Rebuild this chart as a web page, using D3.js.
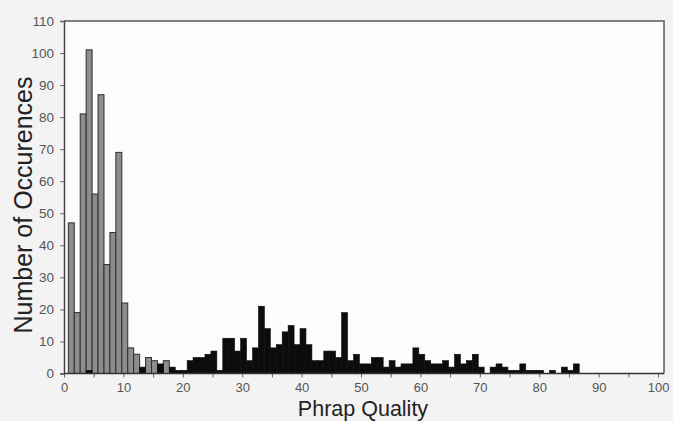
<!DOCTYPE html>
<html>
<head>
<meta charset="utf-8">
<script src="https://cdn.jsdelivr.net/npm/d3@7"></script>
<style>
  html, body { margin: 0; padding: 0; background: #f3f3f3; }
  svg { display: block; }
</style>
</head>
<body>
<svg id="chart" width="673" height="421"></svg>
<script>
// Phrap quality bins (x categories) and counts for the two series
const greyQuality = [1, 2, 3, 4, 5, 6, 7, 8, 9, 10, 11, 12, 13, 14, 15, 16, 17];
const greyCounts  = [47, 19, 81, 101, 56, 87, 34, 44, 69, 22, 8, 6, 0, 5, 4, 0, 4];

const blackQuality = [4, 13, 14, 15, 16, 17, 18, 19, 20, 21, 22, 23, 24, 25, 26, 27, 28, 29, 30,
  31, 32, 33, 34, 35, 36, 37, 38, 39, 40, 41, 42, 43, 44, 45, 46, 47, 48, 49, 50,
  51, 52, 53, 54, 55, 56, 57, 58, 59, 60, 61, 62, 63, 64, 65, 66, 67, 68, 69, 70,
  71, 72, 73, 74, 75, 76, 77, 78, 79, 80, 81, 82, 83, 84, 85, 86];
const blackCounts = [1, 2, 0, 0, 3, 0, 2, 1, 1, 4, 5, 5, 6, 7, 1, 11, 11, 7, 11,
  4, 8, 21, 14, 8, 9, 13, 15, 9, 14, 9, 4, 4, 7, 7, 5, 19, 4, 6, 3,
  3, 5, 5, 2, 4, 2, 3, 3, 8, 6, 4, 3, 3, 4, 2, 6, 3, 4, 6, 2,
  0, 2, 3, 2, 1, 1, 3, 1, 1, 1, 0, 1, 0, 2, 1, 3];

const xTickLabels = [0, 10, 20, 30, 40, 50, 60, 70, 80, 90, 100];
const xMinorTicks = [0, 5, 10, 15, 20, 25, 30, 35, 40, 45, 50, 55, 60, 65, 70, 75, 80, 85, 90, 95, 100];
const yTickLabels = [0, 10, 20, 30, 40, 50, 60, 70, 80, 90, 100, 110];

const xTitle = "Phrap Quality";
const yTitle = "Number of Occurences";

const svg = d3.select("#chart");
const mLeft = 64, mRight = 664, mTop = 21, mBottom = 373.5;

const x = d3.scaleLinear().domain([0, 101]).range([mLeft, mRight]);
const y = d3.scaleLinear().domain([0, 110]).range([mBottom, mTop]);
const bw = x(1) - x(0);

// plot background
svg.append("rect")
  .attr("x", mLeft).attr("y", mTop)
  .attr("width", mRight - mLeft).attr("height", mBottom - mTop)
  .attr("fill", "#fcfcfc");

// grey series
svg.append("g").selectAll("rect")
  .data(greyQuality.map((q, i) => ({q, v: greyCounts[i]})).filter(d => d.v > 0))
  .join("rect")
  .attr("x", d => x(d.q - 0.27))
  .attr("y", d => y(d.v))
  .attr("width", bw)
  .attr("height", d => y(0) - y(d.v))
  .attr("fill", "#8d8d8d")
  .attr("stroke", "#2e2e2e")
  .attr("stroke-width", 1);

// black series
svg.append("g").selectAll("rect")
  .data(blackQuality.map((q, i) => ({q, v: blackCounts[i]})).filter(d => d.v > 0))
  .join("rect")
  .attr("x", d => x(d.q - 0.27))
  .attr("y", d => y(d.v))
  .attr("width", bw)
  .attr("height", d => y(0) - y(d.v))
  .attr("fill", "#0c0c0c")
  .attr("stroke", "#0c0c0c")
  .attr("stroke-width", 0.6);

// frame (top and right)
svg.append("path")
  .attr("d", `M${mLeft},${mTop}H${mRight}V${mBottom}`)
  .attr("fill", "none")
  .attr("stroke", "#5a5a5a")
  .attr("stroke-width", 1.5);

// y axis
const yAxis = d3.axisLeft(y).tickValues(yTickLabels).tickSize(4).tickPadding(6);
const gy = svg.append("g").attr("transform", `translate(${mLeft},0)`).call(yAxis);
gy.select(".domain").attr("stroke", "#444").attr("stroke-width", 1.5);
gy.selectAll(".tick line").attr("stroke", "#666");
gy.selectAll("text")
  .attr("font-family", "Liberation Sans, Arial, sans-serif")
  .attr("font-size", 13.5).attr("fill", "#555");

// x axis: minor ticks every 5, labels every 10
const xAxisMinor = d3.axisBottom(x).tickValues(xMinorTicks).tickSize(4).tickFormat("");
const gxm = svg.append("g").attr("transform", `translate(0,${mBottom})`).call(xAxisMinor);
gxm.select(".domain").remove();
gxm.selectAll(".tick line").attr("stroke", "#666");

const xAxis = d3.axisBottom(x).tickValues(xTickLabels).tickSize(0).tickPadding(9);
const gx = svg.append("g").attr("transform", `translate(0,${mBottom})`).call(xAxis);
gx.select(".domain").attr("stroke", "#333").attr("stroke-width", 1.5)
  .attr("d", `M${mLeft},0H${mRight}`);
gx.selectAll("text")
  .attr("font-family", "Liberation Sans, Arial, sans-serif")
  .attr("font-size", 13).attr("fill", "#555");

// axis titles
svg.append("text")
  .attr("x", 363).attr("y", 415.5)
  .attr("text-anchor", "middle")
  .attr("font-family", "Liberation Sans, Arial, sans-serif")
  .attr("font-size", 21.5).attr("fill", "#222")
  .text(xTitle);

svg.append("text")
  .attr("transform", "translate(32,205) rotate(-90)")
  .attr("text-anchor", "middle")
  .attr("font-family", "Liberation Sans, Arial, sans-serif")
  .attr("font-size", 25).attr("fill", "#222")
  .text(yTitle);
</script>
</body>
</html>
